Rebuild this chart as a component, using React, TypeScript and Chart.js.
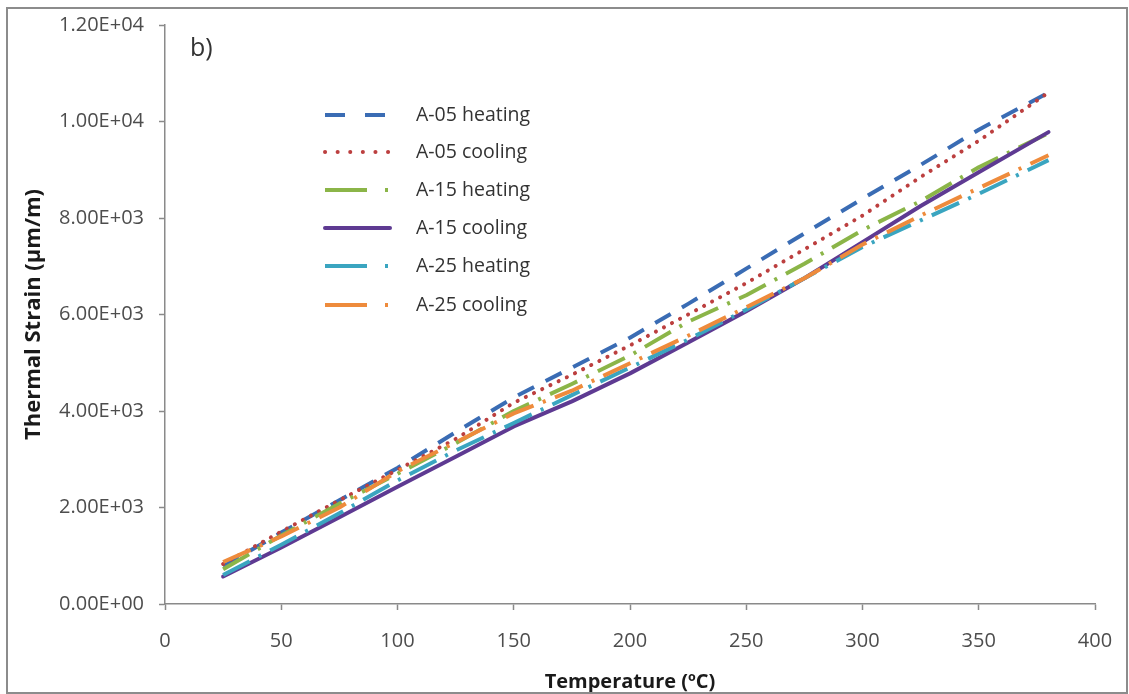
import React, { useEffect, useRef } from "react";
import { Chart, registerables } from "chart.js";

Chart.register(...registerables);

// ---------- data ----------
const temperatures = [25, 50, 75, 100, 125, 150, 175, 200, 225, 250, 275, 300, 325, 350, 380];

const a05Heating = [780, 1480, 2150, 2820, 3560, 4280, 4900, 5520, 6220, 6950, 7680, 8400, 9100, 9830, 10600];
const a05Cooling = [830, 1500, 2150, 2780, 3420, 4170, 4750, 5360, 6000, 6650, 7350, 8050, 8850, 9600, 10600];
const a15Heating = [720, 1420, 2080, 2700, 3330, 4000, 4560, 5150, 5850, 6400, 7050, 7750, 8350, 9050, 9760];
const a15Cooling = [570, 1170, 1800, 2430, 3050, 3680, 4200, 4780, 5420, 6070, 6750, 7500, 8250, 8950, 9780];
const a25Heating = [600, 1230, 1880, 2560, 3180, 3750, 4330, 4900, 5480, 6100, 6750, 7400, 7950, 8500, 9200];
const a25Cooling = [870, 1400, 2000, 2750, 3350, 3950, 4420, 4990, 5560, 6150, 6750, 7450, 8050, 8620, 9300];

const seriesNames = ["A-05 heating", "A-05 cooling", "A-15 heating", "A-15 cooling", "A-25 heating", "A-25 cooling"];
const seriesValues = [a05Heating, a05Cooling, a15Heating, a15Cooling, a25Heating, a25Cooling];

const xTickLabels = ["0", "50", "100", "150", "200", "250", "300", "350", "400"];
const yTickLabels = ["0.00E+00", "2.00E+03", "4.00E+03", "6.00E+03", "8.00E+03", "1.00E+04", "1.20E+04"];

// ---------- styles ----------
const seriesColors = ["#3A6CB4", "#BC3F3F", "#8BB548", "#5E3A92", "#3AA5C0", "#EE8B3C"];
const seriesDash = [[18, 13], [0.1, 9], [30, 10, 3, 10], [], [30, 10, 3, 10], [30, 10, 3, 10]];
const legendDash = [[20, 20], [0.1, 12.5], [42, 18, 3, 20], [], [42, 18, 3, 20], [42, 18, 3, 20]];
const seriesCap = ["butt", "round", "butt", "round", "butt", "butt"];
const seriesWidth = [4, 4, 4, 4, 4, 4];

const FONT = "'Open Sans', 'DejaVu Sans', sans-serif";

const insideLegend = {
  id: "insideLegend",
  afterDatasetsDraw(chart: any) {
    const ctx = chart.ctx as CanvasRenderingContext2D;
    ctx.save();
    const x0 = 325;
    const x1 = 390;
    const tx = 416;
    const rows = [115, 152, 190, 228, 266, 305];
    chart.data.datasets.forEach((ds: any, i: number) => {
      const y = rows[i];
      ctx.beginPath();
      ctx.strokeStyle = ds.borderColor;
      ctx.lineWidth = ds.borderWidth;
      ctx.lineCap = ds.borderCapStyle;
      ctx.setLineDash(legendDash[i]);
      ctx.moveTo(x0, y);
      ctx.lineTo(x1, y);
      ctx.stroke();
      ctx.setLineDash([]);
      ctx.fillStyle = "#333333";
      ctx.font = `19.5px ${FONT}`;
      ctx.textBaseline = "middle";
      ctx.textAlign = "left";
      ctx.fillText(ds.label, tx, y);
    });
    ctx.fillStyle = "#333333";
    ctx.font = `25px ${FONT}`;
    ctx.textBaseline = "alphabetic";
    ctx.fillText("b)", 190, 56);
    ctx.restore();
  },
};

export default function App() {
  const canvasRef = useRef<HTMLCanvasElement | null>(null);

  useEffect(() => {
    if (!canvasRef.current) return;
    const datasets = seriesNames.map((name, i) => ({
      label: name,
      data: temperatures.map((t, k) => ({ x: t, y: seriesValues[i][k] })),
      borderColor: seriesColors[i],
      backgroundColor: seriesColors[i],
      borderWidth: seriesWidth[i],
      borderDash: seriesDash[i],
      borderCapStyle: seriesCap[i],
      borderJoinStyle: "round",
      pointRadius: 0,
      tension: 0,
      fill: false,
      order: seriesNames.length - i,
    }));

    const chart = new Chart(canvasRef.current, {
      type: "line",
      data: { datasets } as any,
      plugins: [insideLegend],
      options: {
        animation: false,
        responsive: false,
        maintainAspectRatio: false,
        layout: { padding: { top: 25, right: 34, bottom: 0, left: 0 } },
        plugins: {
          legend: { display: false },
          tooltip: { enabled: false },
        },
        scales: {
          x: {
            type: "linear",
            min: 0,
            max: 400,
            ticks: {
              stepSize: 50,
              padding: 19,
              color: "#4d4d4d",
              font: { family: FONT, size: 20 },
              callback: (_v: any, i: number) => xTickLabels[i],
            },
            grid: {
              drawOnChartArea: false,
              drawTicks: true,
              tickLength: 6,
              tickColor: "#8a8a8a",
              tickWidth: 1.5,
            },
            border: { display: true, color: "#8a8a8a", width: 1.5 },
            title: {
              display: true,
              text: "Temperature (ºC)",
              color: "#1a1a1a",
              font: { family: FONT, size: 20, weight: "bold" },
              padding: { top: 0, bottom: 0 },
            },
            afterFit: (scale: any) => {
              scale.height = 90;
              scale.paddingLeft = 0;
              scale.paddingRight = 0;
            },
          },
          y: {
            type: "linear",
            min: 0,
            max: 12000,
            ticks: {
              stepSize: 2000,
              padding: 15,
              color: "#4d4d4d",
              font: { family: FONT, size: 20 },
              callback: (_v: any, i: number) => yTickLabels[i],
            },
            grid: {
              drawOnChartArea: false,
              drawTicks: true,
              tickLength: 6,
              tickColor: "#8a8a8a",
              tickWidth: 1.5,
            },
            border: { display: true, color: "#8a8a8a", width: 1.5 },
            title: {
              display: true,
              text: "Thermal Strain (µm/m)",
              color: "#1a1a1a",
              font: { family: FONT, size: 22, weight: "bold" },
              padding: { top: 21, bottom: 0 },
            },
            afterFit: (scale: any) => {
              scale.width = 165;
              scale.paddingTop = 0;
              scale.paddingBottom = 0;
            },
          },
        },
      } as any,
    });
    return () => chart.destroy();
  }, []);

  return (
    <div
      style={{
        position: "fixed",
        left: 0,
        top: 0,
        width: 1129,
        height: 694,
        background: "#ffffff",
        overflow: "hidden",
      }}
    >
      <canvas ref={canvasRef} width={1129} height={694} style={{ position: "absolute", left: 0, top: 0 }} />
      <div
        style={{
          position: "absolute",
          left: 6,
          top: 7,
          width: 1122,
          height: 687,
          border: "2px solid #8c8c8c",
          boxSizing: "border-box",
          pointerEvents: "none",
        }}
      />
    </div>
  );
}
